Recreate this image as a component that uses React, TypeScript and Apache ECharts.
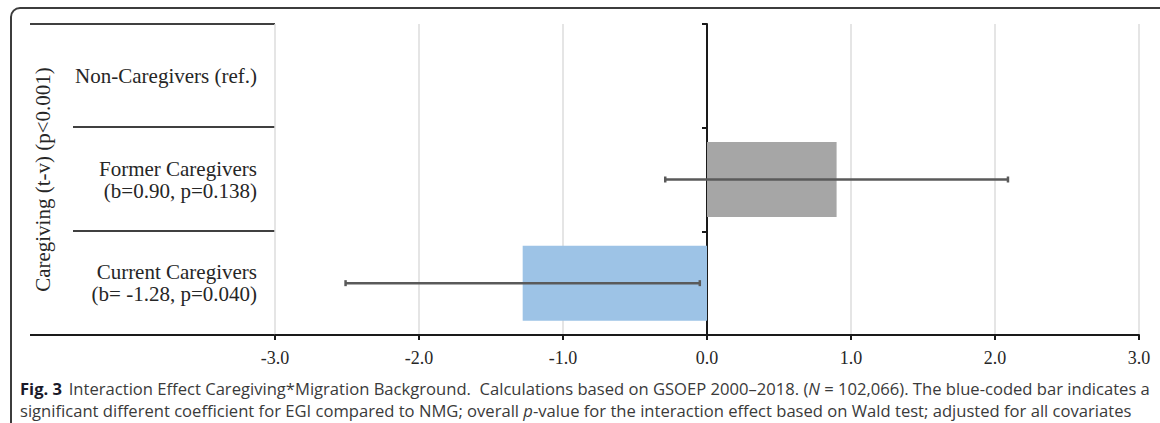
import React, { useEffect, useRef } from "react";
import * as echarts from "echarts";

const categories = [
  "Non-Caregivers (ref.)",
  "Former Caregivers\n(b=0.90, p=0.138)",
  "Current Caregivers\n(b= -1.28, p=0.040)",
];
const coefficients: (number | null)[] = [null, 0.9, -1.28];
const ciLow: (number | null)[] = [null, -0.29, -2.51];
const ciHigh: (number | null)[] = [null, 2.09, -0.05];
const barColors = ["#a6a6a6", "#a6a6a6", "#9dc3e6"];
const xMin = -3;
const xMax = 3;
const xStep = 1;
const yAxisTitle = "Caregiving (t-v) (p<0.001)";

const SERIF = '"Liberation Serif", "DejaVu Serif", serif';
const SANS = '"Open Sans", "Noto Sans", sans-serif';
const CAP = 16.6;

export default function App() {
  const ref = useRef<HTMLDivElement>(null);
  useEffect(() => {
    if (!ref.current) return;
    const chart = echarts.init(ref.current, null, { renderer: "svg" });
    const errData = categories.map((_, i) =>
      ciLow[i] == null ? [i, null, null] : [i, ciLow[i], ciHigh[i]]
    );
    chart.setOption({
      animation: false,
      backgroundColor: "#ffffff",
      grid: { left: 275, right: 21, top: 24, bottom: 88 },
      xAxis: {
        type: "value",
        min: xMin,
        max: xMax,
        interval: xStep,
        axisLine: { show: true, lineStyle: { color: "#1a1a1a", width: 2 } },
        axisTick: { show: true, length: 5, lineStyle: { color: "#1a1a1a", width: 2 } },
        axisLabel: {
          formatter: (v: number) => v.toFixed(1),
          fontFamily: SERIF,
          fontSize: 18,
          color: "#262626",
          margin: 14,
        },
        splitLine: { show: true, lineStyle: { color: "#dcdcdc", width: 1.5 } },
      },
      yAxis: [
        {
          type: "category",
          data: categories,
          inverse: true,
          axisLine: { show: true, onZero: true, lineStyle: { color: "#1a1a1a", width: 2 } },
          axisTick: { show: true, length: 5, lineStyle: { color: "#1a1a1a", width: 2 } },
          axisLabel: { show: false },
          splitLine: { show: false },
        },
        {
          type: "category",
          data: categories,
          inverse: true,
          position: "left",
          axisLine: { show: false, onZero: false },
          axisTick: { show: false },
          axisLabel: {
            show: true,
            align: "right",
            margin: 18,
            fontFamily: SERIF,
            fontSize: 21,
            lineHeight: 22,
            color: "#262626",
          },
          name: yAxisTitle,
          nameLocation: "middle",
          nameRotate: 90,
          nameGap: 222,
          nameTextStyle: { fontFamily: SERIF, fontSize: 21, color: "#262626" },
        },
      ],
      series: [
        {
          type: "bar",
          yAxisIndex: 0,
          barWidth: 75,
          data: coefficients.map((v, i) => ({
            value: v,
            itemStyle: { color: barColors[i] },
          })),
          z: 1,
        },
        {
          type: "custom",
          yAxisIndex: 0,
          z: 5,
          data: errData,
          renderItem: (params: any, api: any) => {
            const lo = api.value(1);
            const hi = api.value(2);
            if (lo == null || hi == null || isNaN(lo) || isNaN(hi)) return null;
            const cat = api.value(0);
            const p1 = api.coord([lo, cat]);
            const p2 = api.coord([hi, cat]);
            const style = { stroke: "#5a5a5a", lineWidth: 2.5 };
            const cap = 3;
            return {
              type: "group",
              children: [
                { type: "line", shape: { x1: p1[0], y1: p1[1], x2: p2[0], y2: p2[1] }, style },
                { type: "line", shape: { x1: p1[0], y1: p1[1] - cap, x2: p1[0], y2: p1[1] + cap }, style },
                { type: "line", shape: { x1: p2[0], y1: p2[1] - cap, x2: p2[0], y2: p2[1] + cap }, style },
              ],
            };
          },
        },
      ],
      graphic: [
        {
          type: "rect",
          shape: { x: 11, y: 8, width: 1180, height: 440, r: 9 },
          style: { fill: "transparent", stroke: "#3c3c3c", lineWidth: 2 },
          silent: true,
        },
        { type: "line", shape: { x1: 30, y1: 24, x2: 275, y2: 24 }, style: { stroke: "#404040", lineWidth: 2 } },
        { type: "line", shape: { x1: 73, y1: 127, x2: 275, y2: 127 }, style: { stroke: "#404040", lineWidth: 2 } },
        { type: "line", shape: { x1: 73, y1: 231, x2: 275, y2: 231 }, style: { stroke: "#404040", lineWidth: 2 } },
        { type: "line", shape: { x1: 30, y1: 335, x2: 275, y2: 335 }, style: { stroke: "#1a1a1a", lineWidth: 2 } },
        {
          type: "text",
          x: 20,
          y: 388,
          style: {
            text:
              "{b|Fig. 3}  {n|Interaction Effect Caregiving*Migration Background.  Calculations based on GSOEP 2000–2018. (}{i|N}{n| = 102,066). The blue-coded bar indicates a}",
            verticalAlign: "middle",
            rich: {
              b: { fontFamily: SANS, fontWeight: "bold", fontSize: CAP, fill: "#1a1a2a" },
              n: { fontFamily: SANS, fontSize: CAP, fill: "#3a3a3a" },
              i: { fontFamily: SANS, fontStyle: "italic", fontSize: CAP, fill: "#3a3a3a" },
            },
          },
        },
        {
          type: "text",
          x: 20,
          y: 410,
          style: {
            text:
              "{n|significant different coefficient for EGI compared to NMG; overall }{i|p}{n|-value for the interaction effect based on Wald test; adjusted for all covariates}",
            verticalAlign: "middle",
            rich: {
              n: { fontFamily: SANS, fontSize: CAP, fill: "#3a3a3a" },
              i: { fontFamily: SANS, fontStyle: "italic", fontSize: CAP, fill: "#3a3a3a" },
            },
          },
        },
      ],
    });
    return () => chart.dispose();
  }, []);
  return (
    <div
      ref={ref}
      style={{ position: "fixed", left: 0, top: 0, width: 1160, height: 423 }}
    />
  );
}
